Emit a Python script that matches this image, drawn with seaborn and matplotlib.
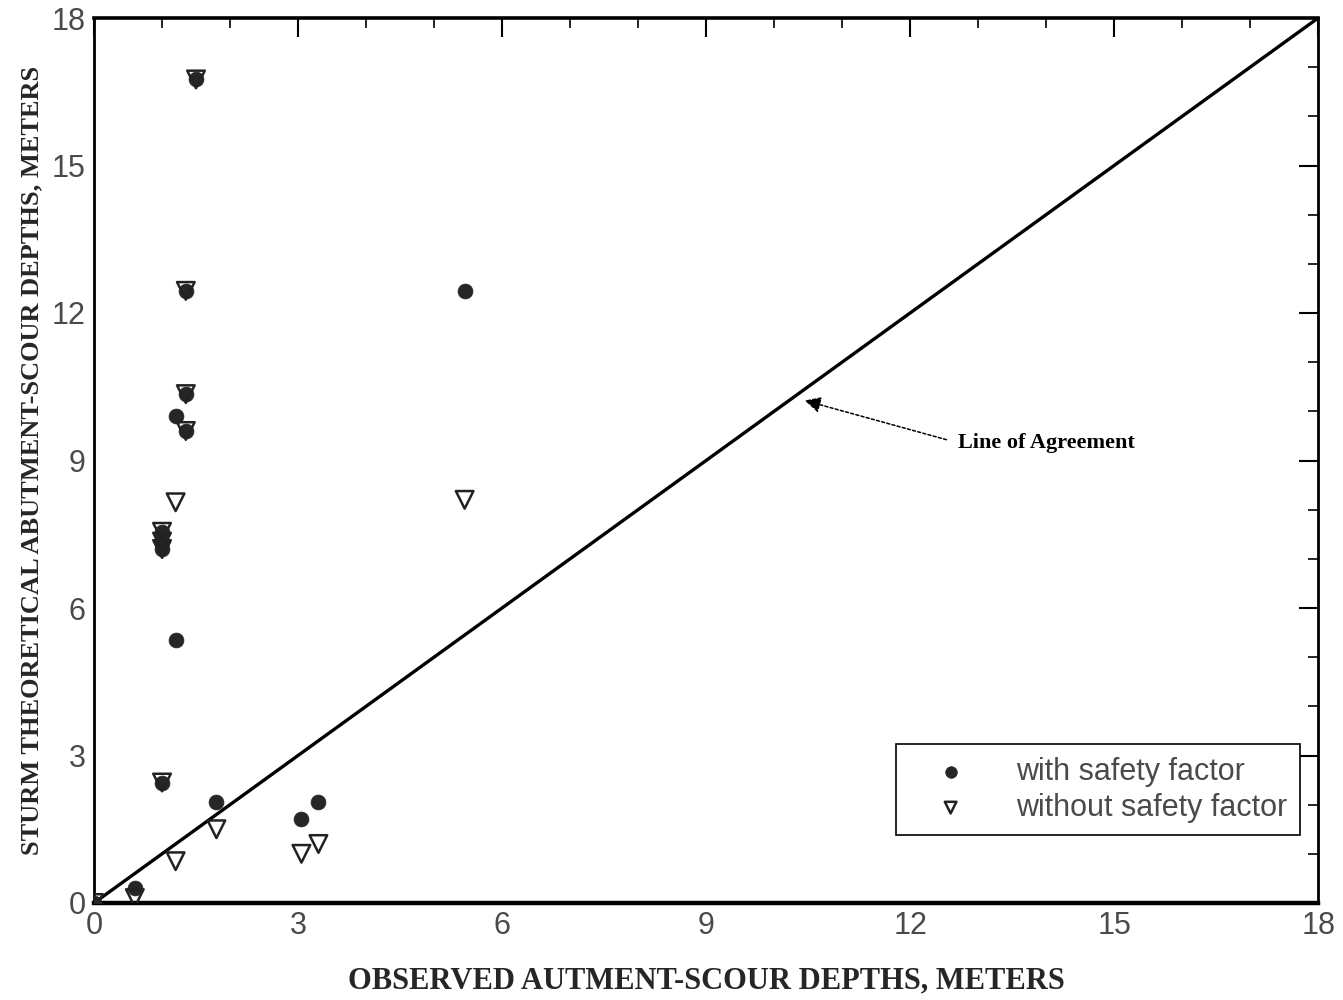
import matplotlib
matplotlib.use("Agg")
import matplotlib.pyplot as plt
from matplotlib.ticker import MultipleLocator
import seaborn as sns
import pandas as pd

# Data
obs_with = [0.0, 0.6, 1.0, 1.0, 1.0, 1.0, 1.2, 1.2, 1.35, 1.35, 1.35, 1.5, 1.8, 3.05, 3.3, 5.45]
sturm_with = [0.0, 0.3, 2.45, 7.2, 7.35, 7.55, 5.35, 9.9, 9.6, 10.35, 12.45, 16.75, 2.05, 1.7, 2.05, 12.45]
obs_without = [0.0, 0.6, 1.0, 1.0, 1.0, 1.0, 1.2, 1.2, 1.35, 1.35, 1.35, 1.5, 1.8, 3.05, 3.3, 5.45]
sturm_without = [0.0, 0.1, 2.45, 7.2, 7.35, 7.55, 0.85, 8.15, 9.6, 10.35, 12.45, 16.75, 1.5, 1.0, 1.2, 8.2]
ticks = [0, 3, 6, 9, 12, 15, 18]
agreement = [0, 18]

sns.set_theme(style="white")
plt.rcParams['font.family'] = ['Liberation Sans', 'DejaVu Sans']

fig = plt.figure(figsize=(13.43, 10.0), dpi=100)
ax = fig.add_axes([0.070, 0.097, 0.9115, 0.885])

df_w = pd.DataFrame({"x": obs_with, "y": sturm_with})
df_wo = pd.DataFrame({"x": obs_without, "y": sturm_without})

sns.lineplot(x=agreement, y=agreement, ax=ax, color="black", linewidth=2.4, zorder=2)
sns.scatterplot(data=df_w, x="x", y="y", ax=ax, marker="o", s=115, color="#262626",
                edgecolor="#262626", linewidth=0.5, label="with safety factor", zorder=3)
sns.scatterplot(data=df_wo, x="x", y="y", ax=ax, marker="v", s=160, facecolor="none",
                edgecolor="#222222", linewidth=1.8, label="without safety factor", zorder=4)

ax.set_xlim(0, 18)
ax.set_ylim(0, 18)
ax.set_xticks(ticks)
ax.set_yticks(ticks)
ax.xaxis.set_minor_locator(MultipleLocator(1))
ax.yaxis.set_minor_locator(MultipleLocator(1))
ax.tick_params(which="major", direction="in", length=14, width=1.5, color="black",
               top=True, right=True, labelsize=22, labelcolor="#4a4a4a", pad=6)
ax.tick_params(which="minor", direction="in", length=7, width=1.2, color="black",
               top=True, right=True)
for sp in ax.spines.values():
    sp.set_color("black")
    sp.set_linewidth(2.0)
ax.spines["bottom"].set_linewidth(3.2)
ax.spines["top"].set_linewidth(2.6)

ax.set_xlabel("OBSERVED AUTMENT-SCOUR DEPTHS, METERS", fontsize=22, fontfamily="Liberation Serif",
              fontweight="bold", color="#262626", labelpad=18)
ax.set_ylabel("STURM THEORETICAL ABUTMENT-SCOUR DEPTHS, METERS", fontsize=19,
              fontfamily="Liberation Serif", fontweight="bold", color="#262626", labelpad=6)

ax.annotate("Line of Agreement", xy=(10.45, 10.22), xytext=(12.7, 9.36),
            fontsize=16, fontfamily="Liberation Serif", fontweight="bold", color="black",
            va="center", ha="left",
            arrowprops=dict(arrowstyle="-|>", linestyle=(0, (2, 1.5)), color="black", lw=1.1,
                            mutation_scale=24, shrinkA=6, shrinkB=0, relpos=(0, 0.5)))

leg = ax.legend(loc="lower right", bbox_to_anchor=(0.985, 0.077), borderaxespad=0,
                fontsize=22, frameon=True, fancybox=False, edgecolor="black", framealpha=1,
                handletextpad=0.75, borderpad=0.4, labelspacing=0.2, handlelength=2.8,
                labelcolor="#4a4a4a")
leg.get_frame().set_linewidth(1.2)
for h in leg.legend_handles:
    try:
        h.set_sizes([70])
    except Exception:
        pass

fig.savefig("out.png", dpi=100)
